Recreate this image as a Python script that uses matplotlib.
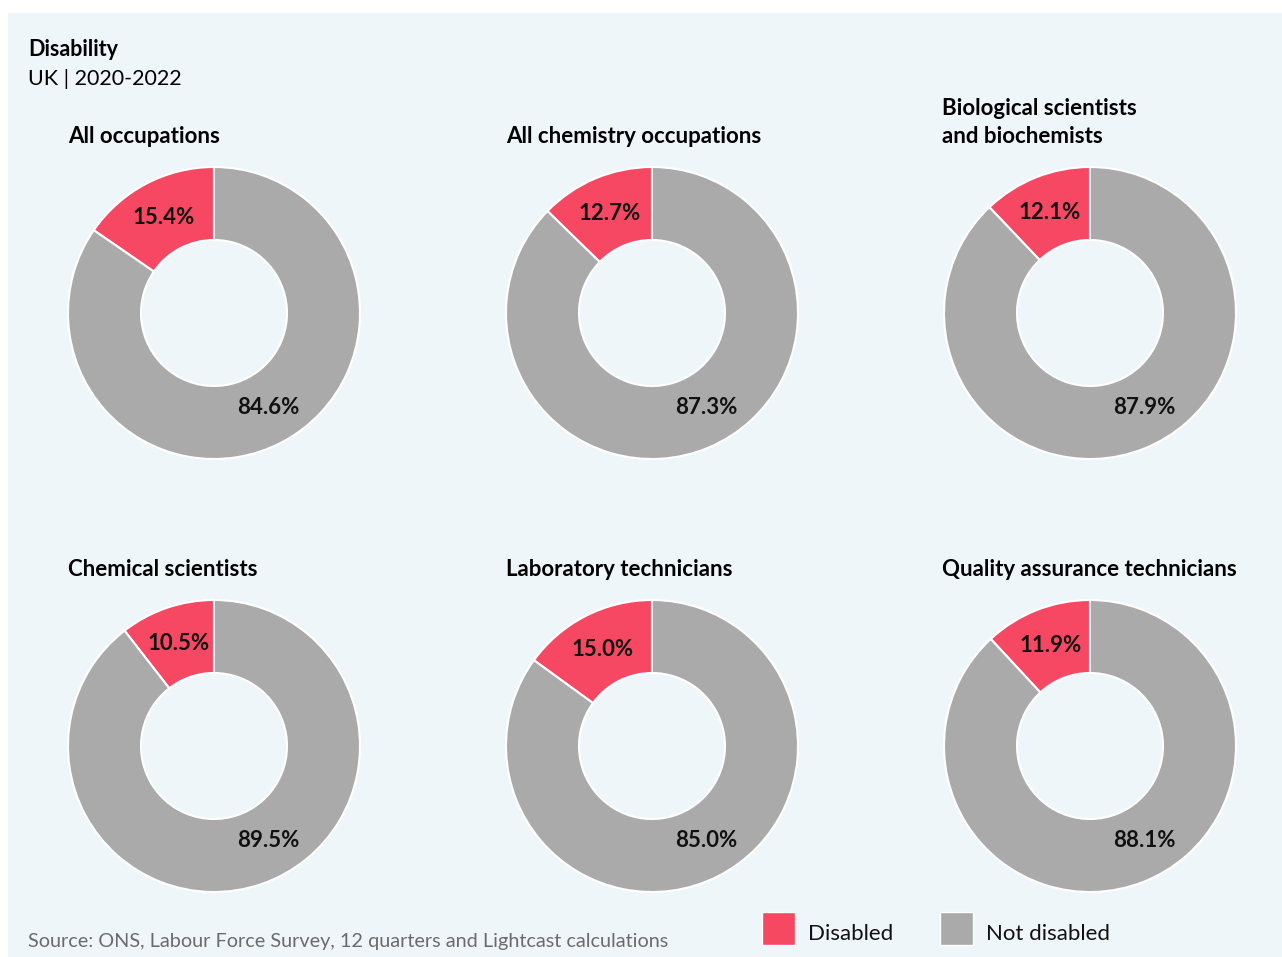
import numpy as np
import matplotlib.pyplot as plt
from matplotlib.patches import Rectangle

# data
titles = ['All occupations', 'All chemistry occupations',
          'Biological scientists\nand biochemists',
          'Chemical scientists', 'Laboratory technicians',
          'Quality assurance technicians']
disabled = [15.4, 12.7, 12.1, 10.5, 15.0, 11.9]
not_disabled = [84.6, 87.3, 87.9, 89.5, 85.0, 88.1]
legend_labels = ['Disabled', 'Not disabled']

red = '#f64863'
grey = '#aaaaaa'
bg = '#eff6fa'
font = 'Lato'

W, H = 1282, 957
fig = plt.figure(figsize=(W / 100, H / 100), dpi=100, facecolor='white')

# light panel behind everything
fig.patches.append(Rectangle((8 / W, 0), 1 - 8 / W, (H - 13) / H,
                             transform=fig.transFigure, color=bg, zorder=-10))

fig.text(28 / W, 1 - 50 / H, 'Disability', fontsize=15.5, fontweight='bold',
         family=font, va='center', ha='left')
fig.text(28 / W, 1 - 79 / H, 'UK | 2020-2022', fontsize=15.5,
         family=font, va='center', ha='left')

# donut centres in pixels
cx = [214, 652, 1090]
cy = [313, 746]
R = 146

for i in range(6):
    x0 = cx[i % 3]
    y0 = cy[i // 3]
    ax = fig.add_axes([(x0 - R) / W, 1 - (y0 + R) / H, 2 * R / W, 2 * R / H])
    ax.pie([disabled[i], not_disabled[i]], colors=[red, grey],
           startangle=90, counterclock=True,
           wedgeprops=dict(width=0.5, edgecolor='white', linewidth=1.5))
    # disabled label in the middle of its wedge
    ang = np.deg2rad(90 + disabled[i] * 3.6 / 2)
    rr = 0.74
    ax.text(rr * np.cos(ang), rr * np.sin(ang), f'{disabled[i]:.1f}%',
            ha='center', va='center', fontsize=16, fontweight='bold',
            family=font, color='#111111')
    # not disabled label sits at the same spot on every donut
    ax.text(0.37, -0.645, f'{not_disabled[i]:.1f}%',
            ha='center', va='center', fontsize=16, fontweight='bold',
            family=font, color='#111111')
    ax.set_xlim(-1, 1)
    ax.set_ylim(-1, 1)
    ax.set_aspect('equal')
    ax.axis('off')
    tx = x0 - R - (2 if i % 3 == 2 else 0)
    fig.text(tx / W, 1 - (y0 - R - 24) / H, titles[i], fontsize=16,
             fontweight='bold', family=font, ha='left', va='baseline',
             linespacing=1.4)

fig.text(28 / W, 1 - 941 / H,
         'Source: ONS, Labour Force Survey, 12 quarters and Lightcast calculations',
         fontsize=14.3, family=font, color='#6b6b6b', va='center', ha='left')

# legend
for j, (lab, col) in enumerate(zip(legend_labels, [red, grey])):
    lx = 762 + j * 178
    fig.patches.append(Rectangle((lx / W, 1 - 945 / H), 33 / W, 33 / H,
                                 transform=fig.transFigure, facecolor=col,
                                 edgecolor='white', linewidth=1))
    fig.text((lx + 46) / W, 1 - 934 / H, lab, fontsize=16, family=font,
             va='center', ha='left', color='#111111')

fig.savefig('out.png', dpi=100, facecolor='white')
